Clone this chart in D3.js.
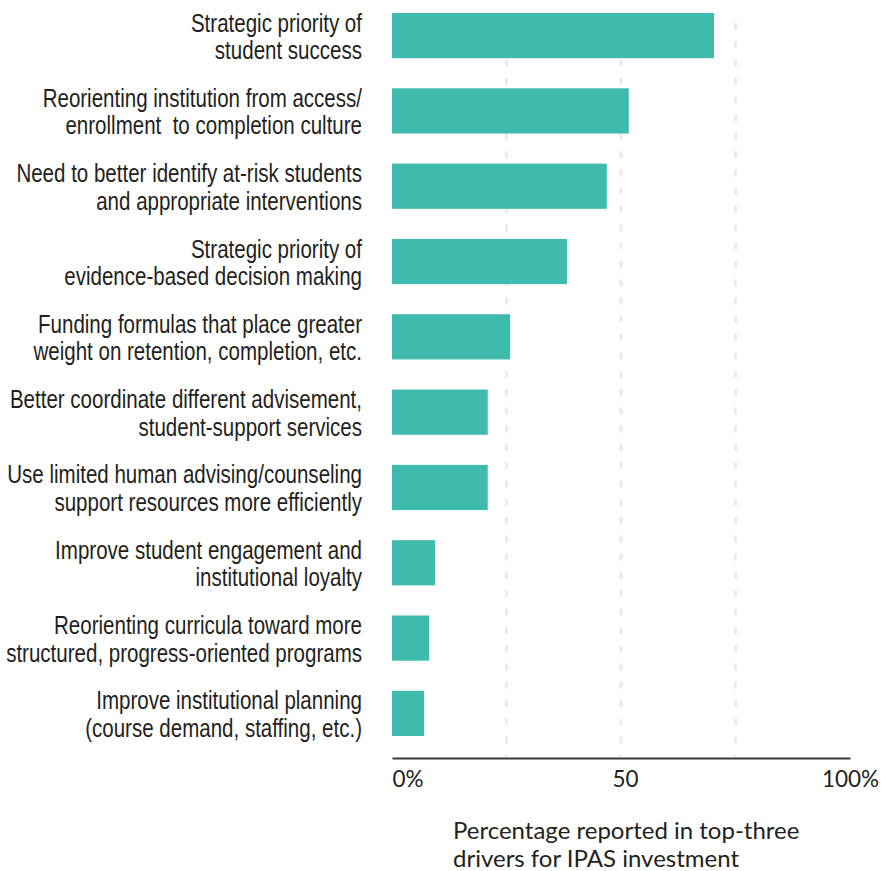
<!DOCTYPE html>
<html>
<head>
<meta charset="utf-8">
<script src="https://cdn.jsdelivr.net/npm/d3@7"></script>
<style>
  html, body { margin: 0; padding: 0; background: #ffffff; }
  svg { display: block; }
</style>
</head>
<body>
<svg id="chart" width="881" height="871"></svg>
<script>
// Drivers for IPAS investment, each label split into its two display lines
const categories = [
  ["Strategic priority of", "student success"],
  ["Reorienting institution from access/", "enrollment  to completion culture"],
  ["Need to better identify at-risk students", "and appropriate interventions"],
  ["Strategic priority of", "evidence-based decision making"],
  ["Funding formulas that place greater", "weight on retention, completion, etc."],
  ["Better coordinate different advisement,", "student-support services"],
  ["Use limited human advising/counseling", "support resources more efficiently"],
  ["Improve student engagement and", "institutional loyalty"],
  ["Reorienting curricula toward more", "structured, progress-oriented programs"],
  ["Improve institutional planning", "(course demand, staffing, etc.)"]
];

// Percentage of institutions naming the driver in their top three
const values = [70.3, 51.7, 46.9, 38.2, 25.8, 20.9, 20.9, 9.4, 8.1, 7.0];

const tickValues = [0, 50, 100];
const tickLabels = ["0%", "50", "100%"];
const gridValues = [25, 50, 75];
const axisTitle = ["Percentage reported in top-three", "drivers for IPAS investment"];

const textColor = "#231f20";
const barColor = "#3ebbac";
const labelFont = "'Liberation Sans', Arial, sans-serif";
const axisFont = "Lato, 'Open Sans', sans-serif";

const svg = d3.select("#chart");

const x = d3.scaleLinear().domain([0, 100]).range([392, 850]);
const ids = d3.range(categories.length);
const y = d3.scaleBand()
  .domain(ids)
  .range([13, 736])
  .paddingInner(0.4)
  .paddingOuter(0);

const axisY = 758;

// Dashed vertical gridlines
svg.append("g")
  .selectAll("line")
  .data(gridValues)
  .join("line")
  .attr("x1", d => x(d))
  .attr("x2", d => x(d))
  .attr("y1", 23)
  .attr("y2", axisY)
  .attr("stroke", "#ebebeb")
  .attr("stroke-width", 3)
  .attr("stroke-dasharray", "7,11.3");

// Bars
svg.append("g")
  .selectAll("rect")
  .data(values)
  .join("rect")
  .attr("x", x(0))
  .attr("y", (d, i) => y(i))
  .attr("width", d => x(d) - x(0))
  .attr("height", y.bandwidth())
  .attr("fill", barColor);

// Category labels, two lines each, condensed and right-aligned against the bars
const labels = svg.append("g")
  .selectAll("text")
  .data(categories)
  .join("text")
  .attr("text-anchor", "end")
  .attr("font-family", labelFont)
  .attr("font-size", 26.5)
  .attr("fill", textColor)
  .style("white-space", "pre")
  .attr("xml:space", "preserve")
  .attr("transform", (d, i) => `translate(362, ${y(i) + y.bandwidth() / 2}) scale(0.775, 1)`);

labels.selectAll("tspan")
  .data(d => d)
  .join("tspan")
  .attr("x", 0)
  .attr("y", (d, j) => j === 0 ? -4 : 23.5)
  .text(d => d);

// Bottom axis
const axis = d3.axisBottom(x)
  .tickValues(tickValues)
  .tickSize(0)
  .tickFormat((d, i) => tickLabels[i]);

const axisG = svg.append("g")
  .attr("transform", `translate(0, ${axisY})`)
  .call(axis);

axisG.select(".domain")
  .attr("stroke", "#3a3a3a")
  .attr("stroke-width", 2);

axisG.selectAll(".tick text")
  .attr("font-family", axisFont)
  .attr("font-size", 22.5)
  .attr("fill", textColor)
  .attr("dy", null)
  .attr("y", 29)
  .attr("text-anchor", (d, i) => i === 0 ? "start" : "middle")
  .attr("dx", (d, i) => i === 1 ? 4 : 0);

// Axis title
svg.append("text")
  .attr("font-family", axisFont)
  .attr("font-size", 24)
  .attr("fill", textColor)
  .selectAll("tspan")
  .data(axisTitle)
  .join("tspan")
  .attr("x", 453)
  .attr("y", (d, j) => 839 + j * 28)
  .text(d => d);
</script>
</body>
</html>
